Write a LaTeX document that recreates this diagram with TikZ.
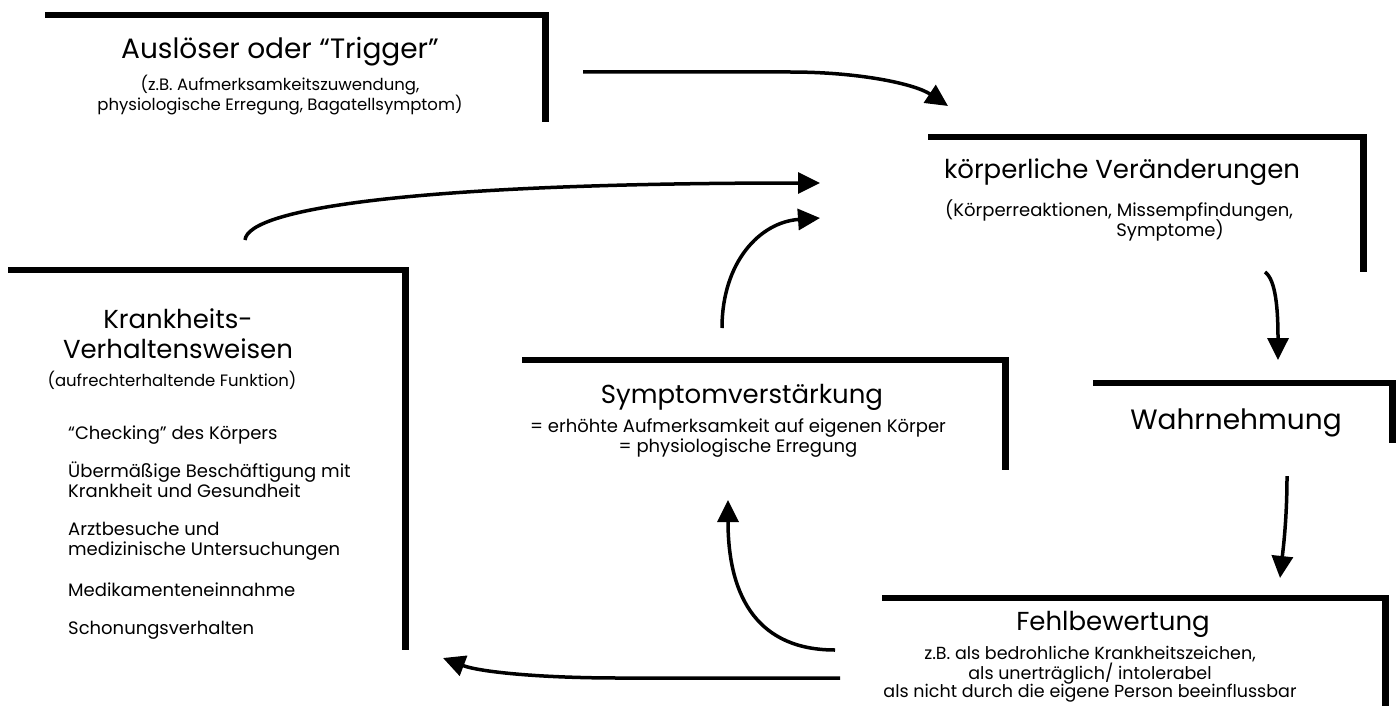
\documentclass[tikz,border=0pt]{standalone}
\usepackage{fontspec}
\setmainfont{Poppins}
\usetikzlibrary{arrows.meta}

\begin{document}
\begin{tikzpicture}[x=1pt,y=-1pt,
    frame/.style={inner sep=0pt, anchor=north west},
    bar/.style={line width=6.5pt, line join=miter},
    title/.style={font=\fontsize{26}{30}\selectfont, align=center, inner sep=0pt},
    sub/.style={font=\fontsize{18}{19.5}\selectfont, align=center, inner sep=0pt},
    item/.style={font=\fontsize{18}{20}\selectfont, align=left, anchor=west, inner sep=0pt},
    arr/.style={line width=3.5pt, -{Triangle[length=22pt,width=21pt]}}]

    \useasboundingbox (0,0) rectangle (1399,706);

    % Boxes
    \node[frame, minimum width=500pt, minimum height=107pt] (trigger) at (45,15) {};
    \node[frame, minimum width=435pt, minimum height=135pt] (koerper) at (928,137) {};
    \node[frame, minimum width=397pt, minimum height=380pt] (krank) at (8,270) {};
    \node[frame, minimum width=483pt, minimum height=110pt] (verst) at (522,360) {};
    \node[frame, minimum width=299pt, minimum height=60pt] (wahr) at (1093,383) {};
    \node[frame, minimum width=503pt, minimum height=115pt] (fehl) at (882,598) {};

    \foreach \b in {trigger,koerper,krank,verst,wahr,fehl}
        \draw[bar] (\b.north west) -- (\b.north east) -- (\b.south east);

    % Texts
    \node[title, font=\fontsize{28}{32}\selectfont] (triggertitle) at (280,52) {Auslöser oder “Trigger”};
    \node[sub, font=\fontsize{16.5}{19.5}\selectfont] (triggersub) at (280,95) {(z.B. Aufmerksamkeitszuwendung,\\physiologische Erregung, Bagatellsymptom)};

    \node[title] (koerpertitle) at (1122,172) {körperliche Veränderungen};
    \node[sub] (koerpersub) at (1119,211) {(Körperreaktionen, Missempfindungen,};
    \node[sub] (koerpersubb) at (1170,230) {Symptome)};

    \node[title] (kranktitle) at (178,334) {Krankheits-\\Verhaltensweisen};
    \node[sub, font=\fontsize{16.5}{19}\selectfont] (kranksub) at (172,380) {(aufrechterhaltende Funktion)};
    \node[item] (checking) at (68,435) {“Checking” des Körpers};
    \node[item] (beschaeft) at (68,480) {Übermäßige Beschäftigung mit\\Krankheit und Gesundheit};
    \node[item] (arzt) at (68,541) {Arztbesuche und\\medizinische Untersuchungen};
    \node[item] (medi) at (68,590) {Medikamenteneinnahme};
    \node[item] (schon) at (68,630) {Schonungsverhalten};

    \node[title] (versttitle) at (742,397) {Symptomverstärkung};
    \node[sub] (verstsub) at (738,438) {= erhöhte Aufmerksamkeit auf eigenen Körper\\= physiologische Erregung};

    \node[title, font=\fontsize{28}{34}\selectfont] (wahrtitle) at (1236,423) {Wahrnehmung};

    \node[title] (fehltitle) at (1113,624) {Fehlbewertung};
    \node[sub, font=\fontsize{17.5}{18.5}\selectfont] (fehlsub) at (1090,674) {z.B. als bedrohliche Krankheitszeichen,\\als unerträglich/ intolerabel\\als nicht durch die eigene Person beeinflussbar};

    % Arrows
    \coordinate (a1s) at (583,72);   \coordinate (a1e) at (948,106);
    \coordinate (a2s) at (245,240);  \coordinate (a2e) at (820,183);
    \coordinate (a3s) at (722,328);  \coordinate (a3e) at (820,218);
    \coordinate (a4s) at (835,650);  \coordinate (a4e) at (728,500);
    \coordinate (a5s) at (840,678);  \coordinate (a5e) at (443,658);
    \coordinate (a6s) at (1265,272); \coordinate (a6e) at (1278,360);
    \coordinate (a7s) at (1287,476); \coordinate (a7e) at (1280,578);

    \draw[arr] (a1s) -- (790,72) .. controls (860,72) and (915,84) .. (a1e);
    \draw[arr] (a2s) .. controls (248,208) and (420,183) .. (a2e);
    \draw[arr] (a3s) .. controls (722,262) and (760,222) .. (a3e);
    \draw[arr] (a4s) .. controls (760,650) and (728,600) .. (a4e);
    \draw[arr] (a5s) -- (620,678) .. controls (540,678) and (480,672) .. (a5e);
    \draw[arr] (a6s) .. controls (1276,280) and (1278,310) .. (a6e);
    \draw[arr] (a7s) .. controls (1287,520) and (1283,550) .. (a7e);

\end{tikzpicture}
\end{document}
